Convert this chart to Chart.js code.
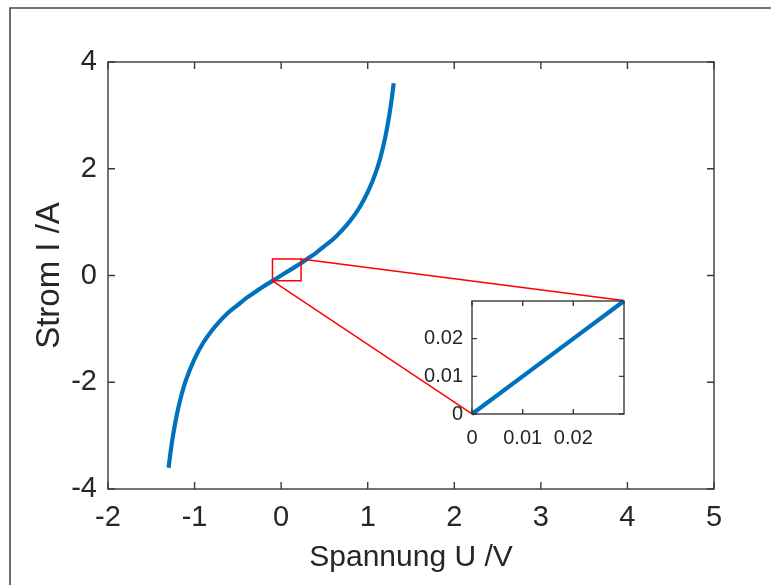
<!DOCTYPE html>
<html><head><meta charset="utf-8">
<script src="https://cdn.jsdelivr.net/npm/chart.js@4/dist/chart.umd.min.js"></script>
<style>
html,body{margin:0;padding:0;background:#fff;}
#wrap{position:relative;width:771px;height:585px;overflow:hidden;background:#fff;}
#inset{position:absolute;}
</style>
</head><body>
<div id="wrap"><canvas id="main" width="771" height="585"></canvas><canvas id="inset"></canvas></div>
<script>
// ---- data ----
const voltage = [-1.30,-1.28,-1.25,-1.20,-1.15,-1.10,-1.00,-0.90,-0.80,-0.70,-0.60,-0.50,-0.40,-0.30,-0.20,-0.10,0,
                 0.10,0.20,0.30,0.40,0.50,0.60,0.70,0.80,0.90,1.00,1.10,1.15,1.20,1.25,1.28,1.30];
const current = [-3.60,-3.34,-3.01,-2.57,-2.23,-1.96,-1.56,-1.26,-1.03,-0.84,-0.68,-0.55,-0.42,-0.31,-0.20,-0.10,0,
                 0.10,0.20,0.31,0.42,0.55,0.68,0.84,1.03,1.26,1.56,1.96,2.23,2.57,3.01,3.34,3.60];
const xTicks = [-2,-1,0,1,2,3,4,5];
const yTicks = [-4,-2,0,2,4];
const zoomRectU = [-0.1, 0.23];
const zoomRectI = [-0.1, 0.31];
const insetBoxU = [2.2, 3.955];
const insetBoxI = [-2.59, -0.47];
const insetU = [0, 0.01, 0.02, 0.03];
const insetI = [0, 0.01, 0.02, 0.03];
const insetTicks = [0, 0.01, 0.02];

const FONT = "'Liberation Sans', Arial, Helvetica, sans-serif";
const TXT = '#262626';
Chart.defaults.font.family = FONT;
Chart.defaults.color = TXT;

function boxPlugin(tickLen, outer) {
  return {
    id: 'box',
    beforeDraw(chart) {
      const {ctx, chartArea: a} = chart;
      ctx.save();
      ctx.fillStyle = '#fff';
      ctx.fillRect(a.left, a.top, a.right - a.left, a.bottom - a.top);
      if (outer) {
        ctx.strokeStyle = '#4a4a4a';
        ctx.lineWidth = 1.6;
        ctx.beginPath();
        ctx.moveTo(10, chart.height + 2);
        ctx.lineTo(10, 8);
        ctx.lineTo(chart.width + 2, 8);
        ctx.stroke();
      }
      ctx.restore();
    },
    afterDatasetsDraw(chart) {
      const {ctx, chartArea: a, scales} = chart;
      ctx.save();
      ctx.strokeStyle = '#3a3a3a';
      ctx.lineWidth = 1.4;
      ctx.beginPath();
      scales.x.ticks.forEach(t => {
        const px = scales.x.getPixelForValue(t.value);
        ctx.moveTo(px, a.bottom); ctx.lineTo(px, a.bottom - tickLen);
        ctx.moveTo(px, a.top); ctx.lineTo(px, a.top + tickLen);
      });
      scales.y.ticks.forEach(t => {
        const py = scales.y.getPixelForValue(t.value);
        ctx.moveTo(a.left, py); ctx.lineTo(a.left + tickLen, py);
        ctx.moveTo(a.right, py); ctx.lineTo(a.right - tickLen, py);
      });
      ctx.stroke();
      ctx.strokeRect(a.left, a.top, a.right - a.left, a.bottom - a.top);
      ctx.restore();
    }
  };
}
const noPadX = (h) => s => { s.height = h; s.paddingLeft = 0; s.paddingRight = 0; };
const noPadY = (w) => s => { s.width = w; s.paddingTop = 0; s.paddingBottom = 0; };

const curve = voltage.map((u, i) => ({x: u, y: current[i]}));
const rectPts = [
  {x: zoomRectU[0], y: zoomRectI[0]}, {x: zoomRectU[1], y: zoomRectI[0]},
  {x: zoomRectU[1], y: zoomRectI[1]}, {x: zoomRectU[0], y: zoomRectI[1]},
  {x: zoomRectU[0], y: zoomRectI[0]}
];
const conn1 = [{x: zoomRectU[1], y: zoomRectI[1]}, {x: insetBoxU[1], y: insetBoxI[1]}];
const conn2 = [{x: zoomRectU[0], y: zoomRectI[0]}, {x: insetBoxU[0], y: insetBoxI[0]}];

const redLine = (data) => ({data, showLine: true, borderColor: '#ff0000', borderWidth: 1.5,
  pointRadius: 0, tension: 0, order: 0, fill: false});

const main = new Chart(document.getElementById('main'), {
  type: 'scatter',
  data: {datasets: [
    redLine(rectPts), redLine(conn1), redLine(conn2),
    {data: curve, showLine: true, borderColor: '#0072BD', borderWidth: 4.2, pointRadius: 0,
     cubicInterpolationMode: 'monotone', order: 1, fill: false}
  ]},
  options: {
    responsive: false, animation: false, events: [],
    layout: {padding: {left: 0, top: 62, right: 57, bottom: 0}},
    plugins: {legend: {display: false}, tooltip: {enabled: false}},
    scales: {
      x: {type: 'linear', min: -2, max: 5,
          afterBuildTicks: s => { s.ticks = xTicks.map(v => ({value: v})); },
          afterFit: noPadX(96),
          grid: {display: false, drawTicks: false}, border: {display: false},
          ticks: {font: {size: 29}, padding: 12, color: TXT, maxRotation: 0, callback: v => String(v)},
          title: {display: true, text: 'Spannung U /V', font: {size: 30}, color: TXT, padding: {top: 0, bottom: 9}}},
      y: {type: 'linear', min: -4, max: 4,
          afterBuildTicks: s => { s.ticks = yTicks.map(v => ({value: v})); },
          afterFit: noPadY(108),
          grid: {display: false, drawTicks: false}, border: {display: false},
          ticks: {font: {size: 29}, padding: 11, color: TXT, callback: v => String(v)},
          title: {display: true, text: 'Strom I /A', font: {size: 33}, color: TXT, padding: {top: 30, bottom: 0}}}
    }
  },
  plugins: [boxPlugin(7, true)]
});

// ---- inset placed at its box in the main chart's data coordinates ----
const sx = main.scales.x, sy = main.scales.y;
const L = sx.getPixelForValue(insetBoxU[0]), R = sx.getPixelForValue(insetBoxU[1]);
const T = sy.getPixelForValue(insetBoxI[1]), B = sy.getPixelForValue(insetBoxI[0]);
const padL = 60, padT = 14, padR = 14, padB = 45;
const ic = document.getElementById('inset');
ic.width = Math.round(R - L) + padL + padR;
ic.height = Math.round(B - T) + padT + padB;
ic.style.left = (Math.round(L) - padL) + 'px';
ic.style.top = (Math.round(T) - padT) + 'px';

const inset = new Chart(ic, {
  type: 'scatter',
  data: {datasets: [{data: insetU.map((u, i) => ({x: u, y: insetI[i]})), showLine: true,
    borderColor: '#0072BD', borderWidth: 4.2, pointRadius: 0, tension: 0, fill: false, clip: 4}]},
  options: {
    responsive: false, animation: false, events: [],
    layout: {padding: {left: 0, top: padT, right: padR, bottom: 0}},
    plugins: {legend: {display: false}, tooltip: {enabled: false}},
    scales: {
      x: {type: 'linear', min: 0, max: 0.03,
          afterBuildTicks: s => { s.ticks = insetTicks.map(v => ({value: v})); },
          afterFit: noPadX(padB),
          grid: {display: false, drawTicks: false}, border: {display: false},
          ticks: {font: {size: 20}, padding: 12, color: TXT, maxRotation: 0,
                  callback: v => v === 0 ? '0' : v.toFixed(2)}},
      y: {type: 'linear', min: 0, max: 0.03,
          afterBuildTicks: s => { s.ticks = insetTicks.map(v => ({value: v})); },
          afterFit: noPadY(padL),
          grid: {display: false, drawTicks: false}, border: {display: false},
          ticks: {font: {size: 20}, padding: 9, color: TXT,
                  callback: v => v === 0 ? '0' : v.toFixed(2)}}
    }
  },
  plugins: [boxPlugin(5, false)]
});
// correct any residual offset so the inset plot area sits exactly on its box
const ia = inset.chartArea;
ic.style.left = (Math.round(L) - ia.left) + 'px';
ic.style.top = (Math.round(T) - ia.top) + 'px';
</script>
</body></html>
